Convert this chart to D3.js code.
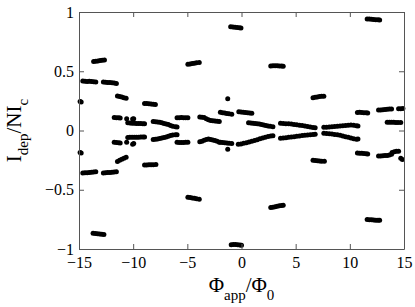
<!DOCTYPE html>
<html>
<head>
<meta charset="utf-8">
<script src="https://cdn.jsdelivr.net/npm/d3@7"></script>
<style>
  body { margin: 0; background: #fff; }
  svg { display: block; }
  text { font-family: "Liberation Serif", "Times New Roman", serif; fill: #000; }
</style>
</head>
<body>
<svg id="chart" width="415" height="307"></svg>
<script>
// tick values and labels
const xTicks = [-15, -10, -5, 0, 5, 10, 15];
const xTickLabels = ['\u221215', '\u221210', '\u22125', '0', '5', '10', '15'];
const yTicks = [-1, -0.5, 0, 0.5, 1];
const yTickLabels = ['\u22121', '\u22120.5', '0', '0.5', '1'];

// large switching branches above zero, [phi, I] per dot
const outerPositive = [
  [[-14.9, 0.245], [-14.8, 0.24]],
  [[-14.65, 0.418], [-14.45, 0.416], [-14.25, 0.414], [-14.05, 0.415], [-13.85, 0.413], [-13.65, 0.412], [-13.45, 0.41]],
  [[-13.65, 0.582], [-13.45, 0.585], [-13.25, 0.587], [-13.05, 0.59], [-12.85, 0.592], [-12.65, 0.594]],
  [[-12.75, 0.41], [-12.55, 0.408], [-12.35, 0.406], [-12.15, 0.405], [-11.95, 0.403], [-11.75, 0.4], [-11.55, 0.397]],
  [[-11.45, 0.292], [-11.25, 0.287], [-11.05, 0.282], [-10.85, 0.277], [-10.65, 0.272]],
  [[-8.95, 0.228], [-8.75, 0.227], [-8.55, 0.225], [-8.35, 0.223], [-8.15, 0.222], [-7.95, 0.22]],
  [[-4.95, 0.56], [-4.75, 0.562], [-4.55, 0.565], [-4.35, 0.568], [-4.15, 0.571], [-3.9, 0.574]],
  [[-1.0, 0.875], [-0.8, 0.873], [-0.6, 0.871], [-0.4, 0.869], [-0.2, 0.867], [-0.05, 0.865]],
  [[-1.27, 0.268]],
  [[2.7, 0.545], [2.9, 0.546], [3.1, 0.547], [3.3, 0.546], [3.5, 0.545], [3.7, 0.544], [3.85, 0.543]],
  [[6.6, 0.277], [6.8, 0.28], [7.0, 0.283], [7.2, 0.286], [7.4, 0.289], [7.6, 0.29]],
  [[11.6, 0.94], [11.8, 0.94], [12.0, 0.938], [12.2, 0.937], [12.4, 0.935], [12.6, 0.934], [12.75, 0.932]],
  [[10.7, 0.152], [10.9, 0.153], [11.1, 0.152], [11.3, 0.15], [11.5, 0.149], [11.65, 0.148]],
  [[12.65, 0.172], [12.85, 0.174], [13.05, 0.176], [13.25, 0.178], [13.45, 0.179], [13.65, 0.181], [13.85, 0.182]],
  [[14.5, 0.183], [14.7, 0.184], [14.9, 0.186]],
  [[13.45, 0.07], [13.65, 0.07], [13.85, 0.069], [14.05, 0.069], [14.25, 0.068], [14.45, 0.068], [14.7, 0.067]]
];

// large switching branches below zero
const outerNegative = [
  [[-14.9, -0.185], [-14.8, -0.19]],
  [[-14.65, -0.358], [-14.45, -0.357], [-14.25, -0.356], [-14.05, -0.354], [-13.85, -0.352], [-13.65, -0.35], [-13.45, -0.348]],
  [[-13.7, -0.868], [-13.5, -0.87], [-13.3, -0.872], [-13.1, -0.874], [-12.9, -0.876], [-12.7, -0.878]],
  [[-12.75, -0.358], [-12.55, -0.357], [-12.35, -0.355], [-12.15, -0.354], [-11.95, -0.352], [-11.75, -0.35], [-11.55, -0.348]],
  [[-11.45, -0.262], [-11.25, -0.252], [-11.05, -0.243], [-10.85, -0.234], [-10.65, -0.226]],
  [[-8.95, -0.292], [-8.75, -0.291], [-8.55, -0.29], [-8.35, -0.289], [-8.15, -0.288], [-7.9, -0.287]],
  [[-4.95, -0.563], [-4.75, -0.566], [-4.55, -0.569], [-4.35, -0.572], [-4.15, -0.576], [-3.9, -0.58]],
  [[-0.95, -0.964], [-0.75, -0.962], [-0.55, -0.962], [-0.35, -0.964], [-0.15, -0.966], [0.0, -0.968]],
  [[-1.27, -0.159]],
  [[2.7, -0.65], [2.9, -0.647], [3.1, -0.644], [3.3, -0.64], [3.5, -0.636], [3.7, -0.633], [3.85, -0.63]],
  [[6.6, -0.252], [6.8, -0.254], [7.0, -0.256], [7.2, -0.258], [7.4, -0.259], [7.65, -0.26]],
  [[10.7, -0.19], [10.9, -0.191], [11.1, -0.193], [11.3, -0.195], [11.5, -0.197], [11.65, -0.198]],
  [[11.6, -0.752], [11.8, -0.753], [12.0, -0.754], [12.2, -0.756], [12.4, -0.757], [12.6, -0.758], [12.75, -0.758]],
  [[12.65, -0.215], [12.85, -0.216], [13.05, -0.214], [13.25, -0.212], [13.45, -0.21], [13.65, -0.206], [13.85, -0.2]],
  [[13.9, -0.186], [14.1, -0.18], [14.3, -0.176], [14.5, -0.175]],
  [[14.7, -0.235], [14.85, -0.245]]
];

// small-current band just above zero
const upperBand = [
  [[-11.75, 0.11], [-11.55, 0.108], [-11.35, 0.107], [-11.2, 0.106]],
  [[-10.6, 0.1], [-10.05, 0.097], [-9.95, 0.1]],
  [[-10.5, 0.065], [-10.3, 0.063], [-10.1, 0.062], [-9.9, 0.061], [-9.7, 0.06], [-9.5, 0.06], [-9.3, 0.059], [-9.1, 0.058], [-8.95, 0.058]],
  [[-8.15, 0.075], [-7.95, 0.074], [-7.75, 0.072], [-7.55, 0.07], [-7.35, 0.066], [-7.15, 0.06], [-6.95, 0.055], [-6.75, 0.05], [-6.55, 0.042], [-6.35, 0.036], [-6.1, 0.032], [-5.95, 0.03]],
  [[-5.95, 0.107], [-5.75, 0.108], [-5.55, 0.109], [-5.35, 0.108], [-5.15, 0.108], [-4.95, 0.107]],
  [[-3.85, 0.113], [-3.65, 0.112], [-3.45, 0.11], [-3.25, 0.1], [-3.05, 0.09], [-2.85, 0.085], [-2.65, 0.082], [-2.45, 0.08], [-2.25, 0.078], [-2.05, 0.076]],
  [[-1.95, 0.153], [-1.75, 0.15], [-1.55, 0.147], [-1.35, 0.144], [-1.15, 0.141], [-0.9, 0.138]],
  [[-0.25, 0.158], [-0.05, 0.156], [0.15, 0.154], [0.35, 0.152], [0.55, 0.149], [0.75, 0.147], [0.95, 0.145]],
  [[0.65, 0.066], [0.85, 0.064], [1.05, 0.062], [1.25, 0.06], [1.45, 0.058], [1.65, 0.054], [1.85, 0.05], [2.05, 0.046], [2.25, 0.042], [2.45, 0.038], [2.65, 0.035], [2.9, 0.032]],
  [[3.6, 0.062], [3.85, 0.06], [4.1, 0.058], [4.35, 0.056], [4.6, 0.054], [4.85, 0.051], [5.1, 0.048], [5.35, 0.045], [5.6, 0.042], [5.85, 0.038], [6.1, 0.034], [6.35, 0.03], [6.6, 0.026], [6.8, 0.024]],
  [[7.6, 0.027], [7.85, 0.028], [8.1, 0.03], [8.35, 0.031], [8.6, 0.033], [8.85, 0.035], [9.1, 0.037], [9.35, 0.04], [9.6, 0.043], [9.85, 0.045], [10.1, 0.046], [10.35, 0.044], [10.6, 0.04], [10.75, 0.038]]
];

// small-current band just below zero
const lowerBand = [
  [[-11.75, -0.1], [-11.55, -0.102], [-11.35, -0.104], [-11.2, -0.105]],
  [[-10.6, -0.1], [-10.05, -0.117], [-9.95, -0.11]],
  [[-10.5, -0.06], [-10.3, -0.058], [-10.1, -0.057], [-9.9, -0.057], [-9.7, -0.056], [-9.5, -0.056], [-9.3, -0.055], [-9.1, -0.054], [-8.95, -0.054]],
  [[-8.15, -0.075], [-7.95, -0.074], [-7.75, -0.072], [-7.55, -0.068], [-7.35, -0.064], [-7.15, -0.06], [-6.95, -0.054], [-6.75, -0.048], [-6.55, -0.042], [-6.35, -0.038], [-6.1, -0.036], [-5.95, -0.035]],
  [[-5.95, -0.1], [-5.75, -0.101], [-5.55, -0.102], [-5.35, -0.101], [-5.15, -0.1], [-4.95, -0.1]],
  [[-3.85, -0.095], [-3.65, -0.09], [-3.45, -0.082], [-3.25, -0.076], [-3.05, -0.072], [-2.85, -0.075], [-2.65, -0.08], [-2.45, -0.085], [-2.25, -0.09], [-2.05, -0.1]],
  [[-1.95, -0.1], [-1.75, -0.102], [-1.55, -0.104], [-1.35, -0.106], [-1.15, -0.108], [-0.9, -0.11]],
  [[-0.3, -0.117], [-0.05, -0.113], [0.2, -0.108], [0.45, -0.103], [0.7, -0.097], [0.95, -0.091], [1.2, -0.085], [1.45, -0.078], [1.7, -0.07], [1.95, -0.063], [2.2, -0.056], [2.45, -0.05], [2.7, -0.046], [2.9, -0.044]],
  [[3.6, -0.066], [3.85, -0.064], [4.1, -0.061], [4.35, -0.058], [4.6, -0.055], [4.85, -0.052], [5.1, -0.049], [5.35, -0.046], [5.6, -0.043], [5.85, -0.04], [6.1, -0.037], [6.35, -0.035], [6.6, -0.033], [6.8, -0.032]],
  [[7.6, -0.024], [7.85, -0.026], [8.1, -0.028], [8.35, -0.03], [8.6, -0.033], [8.85, -0.036], [9.1, -0.04], [9.35, -0.046], [9.6, -0.052], [9.85, -0.058], [10.1, -0.064], [10.35, -0.07], [10.6, -0.074], [10.75, -0.072]]
];

const svg = d3.select('#chart');
const margin = { top: 12, right: 11, bottom: 58, left: 79 };
const width = 415;
const height = 307;

const x = d3.scaleLinear()
  .domain([-15, 15])
  .range([margin.left, width - margin.right]);

const y = d3.scaleLinear()
  .domain([-1, 1])
  .range([height - margin.bottom, margin.top]);

const points = [outerPositive, outerNegative, upperBand, lowerBand].flat(2);

svg.append('g')
  .selectAll('circle')
  .data(points)
  .join('circle')
  .attr('cx', (d) => x(d[0]))
  .attr('cy', (d) => y(d[1]))
  .attr('r', 2.5)
  .attr('fill', '#000');

const axisColor = '#555';
const serif = '"Liberation Serif", "Times New Roman", serif';
const styleAxis = (g) => {
  g.attr('font-family', null).attr('font-size', null);
  g.select('.domain').attr('stroke', axisColor);
  g.selectAll('.tick line').attr('stroke', axisColor);
  g.selectAll('.tick text').style('font-family', serif).style('font-size', '16px');
};

svg.append('g')
  .attr('transform', `translate(0,${y(-1)})`)
  .call(d3.axisBottom(x).tickValues(xTicks).tickFormat((d, i) => xTickLabels[i])
    .tickSizeInner(-5).tickSizeOuter(0).tickPadding(8))
  .call(styleAxis);

svg.append('g')
  .attr('transform', `translate(0,${y(1)})`)
  .call(d3.axisTop(x).tickValues(xTicks).tickFormat('')
    .tickSizeInner(-5).tickSizeOuter(0))
  .call(styleAxis);

svg.append('g')
  .attr('transform', `translate(${x(-15)},0)`)
  .call(d3.axisLeft(y).tickValues(yTicks).tickFormat((d, i) => yTickLabels[i])
    .tickSizeInner(-5).tickSizeOuter(0).tickPadding(5))
  .call(styleAxis);

svg.append('g')
  .attr('transform', `translate(${x(15)},0)`)
  .call(d3.axisRight(y).tickValues(yTicks).tickFormat('')
    .tickSizeInner(-5).tickSizeOuter(0))
  .call(styleAxis);

// axis titles
const xTitle = svg.append('text')
  .attr('x', (x(-15) + x(15)) / 2)
  .attr('y', 292)
  .attr('text-anchor', 'middle')
  .style('font-family', serif)
  .attr('font-size', 21);
xTitle.append('tspan').text('\u03A6');
xTitle.append('tspan').attr('font-size', 15).attr('dy', 8).text('app');
xTitle.append('tspan').attr('dy', -8).text('/\u03A6');
xTitle.append('tspan').attr('font-size', 15).attr('dy', 8).text('0');

const yTitle = svg.append('text')
  .attr('transform', `translate(21,${(y(-1) + y(1)) / 2}) rotate(-90)`)
  .attr('text-anchor', 'middle')
  .style('font-family', serif)
  .attr('font-size', 21);
yTitle.append('tspan').text('I');
yTitle.append('tspan').attr('font-size', 15).attr('dy', 7).text('dep');
yTitle.append('tspan').attr('dy', -7).text('/NI');
yTitle.append('tspan').attr('font-size', 15).attr('dy', 7).text('c');
</script>
</body>
</html>
